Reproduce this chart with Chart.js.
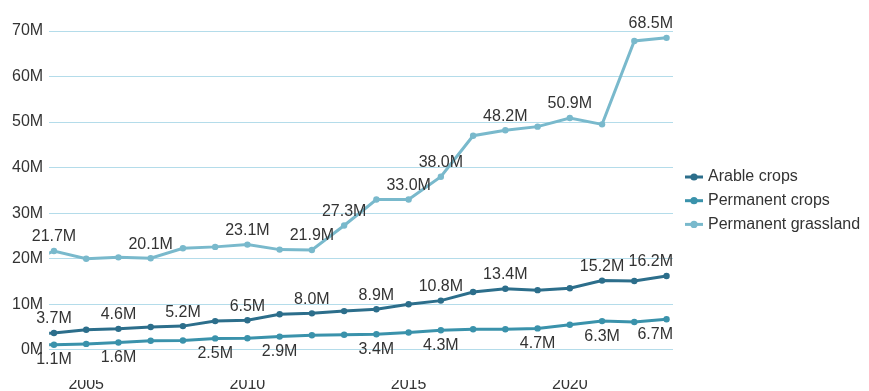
<!DOCTYPE html>
<html>
<head>
<meta charset="utf-8">
<script src="https://cdn.jsdelivr.net/npm/chart.js@4"></script>
<style>
  html, body { margin: 0; padding: 0; background: #fff; }
  #wrap { width: 869px; height: 391px; }
</style>
</head>
<body>
<div id="wrap"><canvas id="myChart" width="869" height="391"></canvas></div>
<script>
'use strict';

// years (2003 sits just off the left edge, only its line segment shows)
const years = [2003, 2004, 2005, 2006, 2007, 2008, 2009, 2010, 2011, 2012, 2013,
  2014, 2015, 2016, 2017, 2018, 2019, 2020, 2021, 2022, 2023];

// values in millions
const arable = [3.4, 3.7, 4.4, 4.6, 5.0, 5.2, 6.3, 6.5, 7.8, 8.0, 8.5,
  8.9, 10.0, 10.8, 12.7, 13.4, 13.1, 13.5, 15.2, 15.1, 16.2];
const permCrops = [1.0, 1.1, 1.3, 1.6, 2.0, 2.05, 2.5, 2.55, 2.9, 3.2, 3.3,
  3.4, 3.8, 4.3, 4.5, 4.5, 4.7, 5.5, 6.3, 6.1, 6.7];
const grassland = [18.5, 21.7, 20.0, 20.3, 20.1, 22.3, 22.6, 23.1, 22.0, 21.9, 27.3,
  33.0, 33.0, 38.0, 47.0, 48.2, 49.0, 50.9, 49.5, 67.8, 68.5];

// which years get a value label
const arableLabelYears = [2004, 2006, 2008, 2010, 2012, 2014, 2016, 2018, 2021, 2023];
const cropsLabelYears = [2004, 2006, 2009, 2011, 2014, 2016, 2019, 2021, 2023];
const grassLabelYears = [2004, 2007, 2010, 2012, 2013, 2015, 2016, 2018, 2020, 2023];

const yTicks = [0, 10, 20, 30, 40, 50, 60, 70];
const xTicks = [2005, 2010, 2015, 2020];

const FONT = '"Liberation Sans", Arial, Helvetica, sans-serif';
const TEXT = '#333333';

const toPoints = vals => years.map((yr, i) => ({ x: yr, y: vals[i] }));

function makeSet(label, vals, color, labelYears, below) {
  return {
    label: label,
    data: toPoints(vals),
    borderColor: color,
    backgroundColor: color,
    borderWidth: 3,
    pointRadius: 3.2,
    pointHoverRadius: 3.2,
    pointBorderWidth: 0,
    tension: 0,
    labelYears: labelYears,
    labelBelow: below
  };
}

// draws the value labels next to chosen points
const valueLabels = {
  id: 'valueLabels',
  afterDatasetsDraw(chart) {
    const ctx = chart.ctx;
    const area = chart.chartArea;
    ctx.save();
    ctx.font = '16px ' + FONT;
    ctx.fillStyle = TEXT;
    ctx.textAlign = 'center';
    ctx.textBaseline = 'middle';
    chart.data.datasets.forEach((ds, di) => {
      const meta = chart.getDatasetMeta(di);
      ds.data.forEach((p, i) => {
        if (!ds.labelYears.includes(p.x)) return;
        const el = meta.data[i];
        const txt = p.y.toFixed(1) + 'M';
        const w = ctx.measureText(txt).width;
        let x = Math.min(el.x, area.right - w / 2);
        const y = ds.labelBelow ? el.y + 15 : el.y - 14;
        ctx.fillText(txt, x, y);
      });
    });
    ctx.restore();
  }
};

// legend on the right: short line with a dot, then the name
const sideLegend = {
  id: 'sideLegend',
  afterDraw(chart) {
    const ctx = chart.ctx;
    ctx.save();
    ctx.font = '16px ' + FONT;
    ctx.textBaseline = 'middle';
    chart.data.datasets.forEach((ds, i) => {
      const y = 177 + i * 23.7;
      ctx.strokeStyle = ds.borderColor;
      ctx.fillStyle = ds.borderColor;
      ctx.lineWidth = 3;
      ctx.beginPath();
      ctx.moveTo(685, y);
      ctx.lineTo(703, y);
      ctx.stroke();
      ctx.beginPath();
      ctx.arc(694, y, 3.6, 0, Math.PI * 2);
      ctx.fill();
      ctx.fillStyle = TEXT;
      ctx.fillText(ds.label, 708, y);
    });
    ctx.restore();
  }
};

const ctx = document.getElementById('myChart').getContext('2d');

new Chart(ctx, {
  type: 'line',
  data: {
    datasets: [
      makeSet('Arable crops', arable, '#2c6e8b', arableLabelYears, false),
      makeSet('Permanent crops', permCrops, '#3a92ab', cropsLabelYears, true),
      makeSet('Permanent grassland', grassland, '#79b9cc', grassLabelYears, false)
    ]
  },
  options: {
    responsive: false,
    animation: false,
    layout: { padding: { left: 6, right: 196, top: 31, bottom: 0 } },
    plugins: {
      legend: { display: false },
      tooltip: { enabled: false }
    },
    scales: {
      x: {
        type: 'linear',
        min: 2003.85,
        max: 2023.2,
        afterBuildTicks: scale => { scale.ticks = xTicks.map(v => ({ value: v })); },
        grid: { display: false, drawTicks: false },
        border: { display: false },
        ticks: {
          padding: 0,
          color: TEXT,
          font: { family: FONT, size: 16, lineHeight: '10px' },
          maxRotation: 0,
          callback: v => String(v)
        }
      },
      y: {
        min: -6.63,
        max: 70,
        afterBuildTicks: scale => { scale.ticks = yTicks.map(v => ({ value: v })); },
        grid: { color: '#b4dcea', lineWidth: 1, drawTicks: false },
        border: { display: false },
        ticks: {
          padding: 6,
          color: TEXT,
          font: { family: FONT, size: 16, lineHeight: '10px' },
          callback: v => v + 'M'
        }
      }
    }
  },
  plugins: [valueLabels, sideLegend]
});
</script>
</body>
</html>
